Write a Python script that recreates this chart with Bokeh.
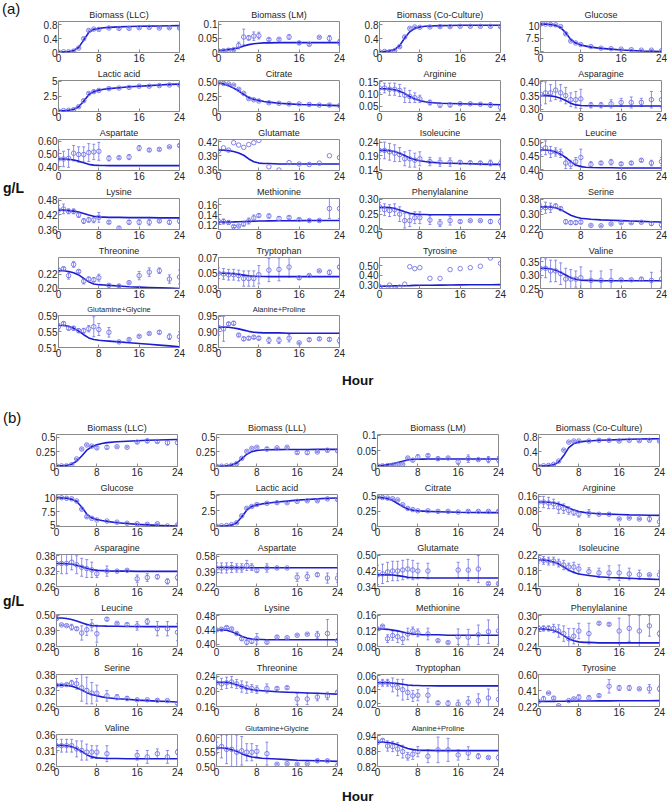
from bokeh.plotting import figure
from bokeh.layouts import column, row
from bokeh.models import Range1d, FixedTicker, Whisker, TeeHead, ColumnDataSource, Div, Spacer
from bokeh.embed import file_html
from bokeh.resources import INLINE

MODEL_T = [0, 1, 2, 3, 4, 5, 6, 7, 8, 9, 10, 12, 14, 16, 18, 20, 22, 24]
DATA_T = [0, 1, 2, 3, 4, 5, 6, 7, 8, 10, 12, 14, 16, 18, 20, 22, 24]
X_TICKS = [0, 8, 16, 24]
N = None

# ---------------- panel (a) ----------------
A_TITLES = ["Biomass (LLC)", "Biomass (LM)", "Biomass (Co-Culture)", "Glucose",
            "Lactic acid", "Citrate", "Arginine", "Asparagine",
            "Aspartate", "Glutamate", "Isoleucine", "Leucine",
            "Lysine", "Methionine", "Phenylalanine", "Serine",
            "Threonine", "Tryptophan", "Tyrosine", "Valine",
            "Glutamine+Glycine", "Alanine+Proline"]
A_YLIMS = [(0, 0.9), (0, 0.11), (0, 0.9), (4.75, 10.8),
           (0, 5.15), (0, 0.53), (0.028, 0.156), (0.292, 0.405),
           (0.37, 0.612), (0.358, 0.425), (0.138, 0.249), (0.398, 0.51),
           (0.36, 0.488), (0.11, 0.172), (0.198, 0.303), (0.218, 0.385),
           (0.1995, 0.244), (0.03, 0.0705), (0.265, 0.585), (0.25, 0.365),
           (0.51, 0.59), (0.85, 0.953)]
A_YTICKS = [[0, 0.4, 0.8], [0, 0.05, 0.1], [0, 0.4, 0.8], [5, 7.5, 10],
            [0, 2.5, 5], [0, 0.25, 0.5], [0.05, 0.10, 0.15], [0.30, 0.35, 0.40],
            [0.40, 0.50, 0.60], [0.36, 0.39, 0.42], [0.14, 0.19, 0.24], [0.40, 0.45, 0.50],
            [0.36, 0.42, 0.48], [0.12, 0.14, 0.16], [0.20, 0.25, 0.30], [0.22, 0.30, 0.38],
            [0.20, 0.22], [0.03, 0.05, 0.07], [0.30, 0.40, 0.50], [0.25, 0.30, 0.35],
            [0.51, 0.55, 0.59], [0.85, 0.90, 0.95]]
A_YLABELS = [["0", "0.4", "0.8"], ["0", "0.05", "0.1"], ["0", "0.4", "0.8"], ["5", "7.5", "10"],
             ["0", "2.5", "5"], ["0", "0.25", "0.50"], ["0.05", "0.10", "0.15"], ["0.30", "0.35", "0.40"],
             ["0.40", "0.50", "0.60"], ["0.36", "0.39", "0.42"], ["0.14", "0.19", "0.24"], ["0.40", "0.45", "0.50"],
             ["0.36", "0.42", "0.48"], ["0.12", "0.14", "0.16"], ["0.20", "0.25", "0.30"], ["0.22", "0.30", "0.38"],
             ["0.20", "0.22"], ["0.03", "0.05", "0.07"], ["0.30", "0.40", "0.50"], ["0.25", "0.30", "0.35"],
             ["0.51", "0.55", "0.59"], ["0.85", "0.90", "0.95"]]

a01_fit = [0.01, 0.015, 0.03, 0.06, 0.15, 0.36, 0.58, 0.67, 0.70, 0.72, 0.73, 0.745, 0.755, 0.76, 0.765, 0.77, 0.775, 0.78]
a01_obs = [0.01, 0.02, 0.02, 0.04, 0.13, 0.40, 0.64, 0.68, 0.67, 0.71, 0.70, 0.70, 0.72, 0.73, 0.71, 0.72, 0.71]
a01_err = [0.01, 0.01, 0.01, 0.01, 0.02, 0.03, 0.02, 0.02, 0.02, 0.02, 0.02, 0.02, 0.02, 0.02, 0.02, 0.02, 0.02]
a02_fit = [0.008, 0.009, 0.011, 0.013, 0.017, 0.023, 0.028, 0.031, 0.033, 0.034, 0.034, 0.035, 0.035, 0.035, 0.035, 0.035, 0.035, 0.035]
a02_obs = [0.005, 0.006, 0.008, 0.01, 0.025, 0.055, 0.052, 0.058, 0.06, 0.046, 0.047, 0.055, 0.034, 0.029, 0.054, 0.05, 0.036]
a02_err = [0.002, 0.002, 0.002, 0.003, 0.012, 0.028, 0.008, 0.015, 0.012, 0.004, 0.003, 0.008, 0.005, 0.003, 0.002, 0.01, 0.01]
a03_fit = [0.02, 0.03, 0.05, 0.09, 0.2, 0.42, 0.6, 0.7, 0.74, 0.76, 0.77, 0.78, 0.785, 0.79, 0.79, 0.79, 0.79, 0.79]
a03_obs = [0.02, 0.03, 0.02, 0.05, 0.17, 0.45, 0.70, 0.74, 0.73, 0.74, 0.75, 0.75, 0.76, 0.76, 0.76, 0.76, 0.75]
a03_err = [0.01, 0.01, 0.01, 0.01, 0.02, 0.03, 0.02, 0.02, 0.02, 0.02, 0.02, 0.02, 0.02, 0.02, 0.02, 0.02, 0.02]
a04_fit = [10.3, 10.25, 10.2, 10.0, 9.6, 8.6, 7.3, 6.6, 6.2, 6.0, 5.8, 5.55, 5.4, 5.25, 5.15, 5.05, 5.0, 4.95]
a04_obs = [10.3, 10.3, 10.2, 10.15, 9.8, 8.4, 7.0, 6.6, 6.3, 5.9, 5.6, 5.5, 5.4, 5.3, 5.2, 5.2, 5.1]
a04_err = [0.1, 0.1, 0.1, 0.1, 0.1, 0.15, 0.15, 0.1, 0.1, 0.1, 0.1, 0.1, 0.1, 0.1, 0.1, 0.1, 0.1]
a05_fit = [0.1, 0.12, 0.2, 0.35, 0.8, 1.7, 2.8, 3.3, 3.55, 3.7, 3.8, 3.95, 4.1, 4.2, 4.3, 4.4, 4.5, 4.55]
a05_obs = [0.1, 0.15, 0.2, 0.3, 0.8, 1.8, 3.0, 3.3, 3.5, 3.8, 3.9, 4.0, 4.2, 4.2, 4.3, 4.4, 4.4]
a05_err = [0.05, 0.05, 0.05, 0.05, 0.1, 0.15, 0.15, 0.15, 0.1, 0.1, 0.1, 0.1, 0.1, 0.1, 0.1, 0.1, 0.1]
a06_fit = [0.49, 0.47, 0.44, 0.40, 0.35, 0.29, 0.24, 0.21, 0.19, 0.17, 0.16, 0.14, 0.13, 0.12, 0.115, 0.11, 0.105, 0.10]
a06_obs = [0.49, 0.48, 0.47, 0.45, 0.38, 0.31, 0.22, 0.20, 0.18, 0.15, 0.14, 0.13, 0.13, 0.12, 0.11, 0.11, 0.10]
a06_err = [0.01, 0.01, 0.01, 0.01, 0.01, 0.01, 0.01, 0.01, 0.01, 0.01, 0.01, 0.01, 0.01, 0.01, 0.01, 0.015, 0.01]
a07_fit = [0.122, 0.122, 0.121, 0.118, 0.112, 0.102, 0.09, 0.08, 0.073, 0.068, 0.065, 0.062, 0.061, 0.06, 0.059, 0.058, 0.057, 0.056]
a07_obs = [0.125, 0.125, 0.12, 0.12, 0.115, 0.095, 0.09, 0.085, 0.08, 0.065, 0.055, 0.055, 0.06, 0.06, 0.058, 0.055, 0.045]
a07_err = [0.02, 0.02, 0.025, 0.025, 0.025, 0.03, 0.025, 0.02, 0.015, 0.01, 0.01, 0.008, 0.003, 0.003, 0.003, 0.01, 0.012]
a08_fit = [0.35, 0.35, 0.349, 0.346, 0.34, 0.332, 0.322, 0.316, 0.314, 0.313, 0.313, 0.312, 0.312, 0.312, 0.312, 0.312, 0.312, 0.312]
a08_obs = [0.355, 0.36, 0.36, 0.37, 0.36, 0.35, 0.335, 0.335, 0.338, 0.315, 0.315, 0.32, 0.325, 0.325, 0.325, 0.335, 0.335]
a08_err = [0.04, 0.04, 0.03, 0.035, 0.03, 0.03, 0.025, 0.03, 0.035, 0.01, 0.01, 0.015, 0.015, 0.02, 0.015, 0.03, 0.03]
a09_fit = [0.46, 0.46, 0.458, 0.452, 0.443, 0.43, 0.418, 0.412, 0.41, 0.409, 0.408, 0.408, 0.408, 0.408, 0.408, 0.408, 0.408, 0.408]
a09_obs = [0.46, 0.46, 0.465, 0.505, 0.495, 0.495, 0.51, 0.515, 0.52, 0.465, 0.47, 0.475, 0.545, 0.53, 0.535, 0.555, 0.565]
a09_err = [0.07, 0.06, 0.07, 0.06, 0.06, 0.06, 0.07, 0.06, 0.07, 0.02, 0.008, 0.02, 0.02, 0.01, 0.008, 0.005, 0.01]
a10_fit = [0.402, 0.402, 0.401, 0.399, 0.396, 0.391, 0.383, 0.377, 0.374, 0.373, 0.373, 0.372, 0.372, 0.372, 0.372, 0.372, 0.372, 0.372]
a10_obs = [0.40, 0.407, 0.402, 0.418, 0.413, 0.408, 0.414, 0.418, 0.423, 0.366, 0.359, 0.375, 0.372, 0.371, 0.374, 0.39, 0.386]
a10_err = [0, 0, 0, 0, 0, 0, 0, 0, 0, 0, 0, 0, 0, 0, 0, 0, 0]
a11_fit = [0.21, 0.21, 0.209, 0.206, 0.2, 0.192, 0.183, 0.177, 0.173, 0.17, 0.168, 0.165, 0.164, 0.163, 0.162, 0.161, 0.16, 0.16]
a11_obs = [0.21, 0.21, 0.205, 0.2, 0.195, 0.18, 0.18, 0.175, 0.18, 0.17, 0.168, 0.168, 0.167, 0.166, 0.165, 0.165, 0.163]
a11_err = [0.03, 0.03, 0.03, 0.03, 0.025, 0.025, 0.03, 0.025, 0.025, 0.015, 0.015, 0.015, 0.005, 0.005, 0.005, 0.01, 0.012]
a12_fit = [0.472, 0.472, 0.47, 0.465, 0.457, 0.445, 0.43, 0.418, 0.412, 0.41, 0.409, 0.408, 0.408, 0.407, 0.407, 0.407, 0.407, 0.407]
a12_obs = [0.475, 0.48, 0.465, 0.465, 0.46, 0.425, 0.42, 0.43, 0.445, 0.42, 0.425, 0.428, 0.422, 0.425, 0.435, 0.425, 0.43]
a12_err = [0.02, 0.025, 0.02, 0.015, 0.015, 0.02, 0.015, 0.015, 0.03, 0.01, 0.005, 0.01, 0.005, 0.005, 0.005, 0.01, 0.015]
a13_fit = [0.44, 0.44, 0.438, 0.436, 0.432, 0.426, 0.42, 0.415, 0.412, 0.411, 0.41, 0.41, 0.409, 0.409, 0.409, 0.408, 0.408, 0.408]
a13_obs = [0.44, 0.445, 0.435, 0.435, 0.42, 0.395, 0.4, 0.4, 0.41, 0.39, 0.366, 0.39, 0.39, 0.39, 0.395, 0.39, 0.395]
a13_err = [0.02, 0.02, 0.01, 0.01, 0.01, 0.01, 0.01, 0.012, 0.02, 0.005, 0.005, 0.008, 0.01, 0.012, 0.005, 0.008, 0.01]
a14_fit = [0.125, 0.125, 0.125, 0.1252, 0.1255, 0.126, 0.1263, 0.1266, 0.127, 0.127, 0.1272, 0.1274, 0.1276, 0.1278, 0.128, 0.128, 0.128, 0.128]
a14_obs = [0.126, 0.126, 0.124, 0.116, 0.117, 0.121, 0.127, 0.133, 0.138, 0.137, 0.132, 0.134, 0.13, 0.128, 0.128, 0.152, 0.152]
a14_err = [0.005, 0.005, 0.003, 0.002, 0.002, 0.004, 0.006, 0.006, 0.003, 0.004, 0.004, 0.003, 0.002, 0.002, 0.002, 0.02, 0.02]
a15_fit = [0.273, 0.273, 0.272, 0.269, 0.264, 0.258, 0.253, 0.25, 0.249, 0.249, 0.248, 0.248, 0.248, 0.248, 0.248, 0.248, 0.248, 0.248]
a15_obs = [0.275, 0.265, 0.262, 0.265, 0.25, 0.228, 0.228, 0.238, 0.238, 0.23, 0.22, 0.228, 0.225, 0.228, 0.228, 0.225, 0.225]
a15_err = [0.015, 0.02, 0.02, 0.02, 0.025, 0.025, 0.02, 0.02, 0.02, 0.015, 0.012, 0.015, 0.005, 0.002, 0.002, 0.007, 0.01]
a16_fit = [0.34, 0.34, 0.339, 0.335, 0.325, 0.31, 0.295, 0.285, 0.279, 0.276, 0.273, 0.27, 0.268, 0.266, 0.264, 0.262, 0.26, 0.258]
a16_obs = [0.335, 0.335, 0.335, 0.345, 0.33, 0.26, 0.255, 0.255, 0.258, 0.24, 0.238, 0.248, 0.255, 0.255, 0.257, 0.25, 0.243]
a16_err = [0.02, 0.03, 0.025, 0.01, 0.01, 0.012, 0.01, 0.01, 0.01, 0.003, 0.003, 0.005, 0.005, 0.005, 0.004, 0.01, 0.012]
a17_fit = [0.225, 0.225, 0.224, 0.222, 0.219, 0.214, 0.209, 0.206, 0.205, 0.2045, 0.204, 0.203, 0.202, 0.2015, 0.201, 0.2005, 0.2, 0.1995]
a17_obs = [0.226, 0.228, 0.218, 0.234, 0.224, 0.21, 0.213, 0.212, 0.215, 0.204, 0.203, 0.208, 0.218, 0.223, 0.225, 0.213, 0.216]
a17_err = [0.002, 0.002, 0.005, 0.004, 0.002, 0.004, 0.003, 0.003, 0.005, 0.001, 0.002, 0.001, 0.006, 0.006, 0.004, 0.006, 0.01]
a18_fit = [0.05, 0.05, 0.0498, 0.0493, 0.0485, 0.0475, 0.0465, 0.046, 0.0457, 0.0456, 0.0455, 0.0455, 0.0455, 0.0455, 0.0455, 0.0455, 0.0455, 0.0455]
a18_obs = [0.05, 0.049, 0.048, 0.048, 0.047, 0.043, 0.043, 0.043, 0.048, 0.054, 0.055, 0.058, 0.044, 0.047, 0.053, 0.051, 0.058]
a18_err = [0.007, 0.007, 0.007, 0.007, 0.007, 0.01, 0.01, 0.01, 0.012, 0.015, 0.015, 0.013, 0.002, 0.001, 0.001, 0.003, 0.002]
a19_fit = [0.29, 0.29, 0.291, 0.292, 0.293, 0.294, 0.295, 0.297, 0.298, 0.299, 0.299, 0.3, 0.301, 0.302, 0.303, 0.304, 0.304, 0.305]
a19_obs = [0.285, 0.275, 0.3, 0.26, 0.28, 0.31, 0.49, 0.47, 0.48, 0.37, 0.37, 0.46, 0.47, 0.48, 0.495, 0.58, 0.525]
a19_err = [0, 0, 0, 0, 0, 0, 0, 0, 0, 0, 0, 0, 0, 0, 0, 0, 0]
a20_fit = [0.325, 0.325, 0.323, 0.318, 0.31, 0.3, 0.29, 0.284, 0.281, 0.28, 0.28, 0.279, 0.279, 0.279, 0.279, 0.279, 0.279, 0.279]
a20_obs = [0.325, 0.325, 0.315, 0.315, 0.305, 0.285, 0.285, 0.285, 0.29, 0.28, 0.28, 0.28, 0.282, 0.282, 0.285, 0.28, 0.285]
a20_err = [0.035, 0.035, 0.04, 0.04, 0.04, 0.04, 0.035, 0.03, 0.04, 0.035, 0.035, 0.04, 0.003, 0.003, 0.005, 0.03, 0.03]
a21_fit = [0.565, 0.565, 0.563, 0.558, 0.551, 0.542, 0.534, 0.53, 0.528, 0.527, 0.526, 0.524, 0.522, 0.52, 0.518, 0.516, 0.514, 0.512]
a21_obs = [0.562, 0.57, 0.558, 0.558, 0.552, 0.552, 0.557, 0.562, 0.555, 0.548, 0.524, 0.53, 0.538, 0.545, 0.548, 0.537, 0.537]
a21_err = [0.008, 0.004, 0.004, 0.005, 0.005, 0.006, 0.008, 0.025, 0.015, 0.012, 0.002, 0.002, 0.002, 0.002, 0.004, 0.007, 0.012]
a22_fit = [0.915, 0.916, 0.915, 0.913, 0.91, 0.906, 0.902, 0.899, 0.898, 0.897, 0.897, 0.897, 0.896, 0.896, 0.896, 0.896, 0.896, 0.896]
a22_obs = [0.915, 0.91, 0.926, 0.928, 0.89, 0.878, 0.88, 0.883, 0.88, 0.873, 0.873, 0.88, 0.865, 0.875, 0.878, 0.876, 0.872]
a22_err = [0.025, 0.04, 0.005, 0.006, 0.004, 0.006, 0.005, 0.004, 0.006, 0.01, 0.01, 0.012, 0.002, 0.005, 0.004, 0.005, 0.01]

A_FITS = [a01_fit, a02_fit, a03_fit, a04_fit, a05_fit, a06_fit, a07_fit, a08_fit, a09_fit, a10_fit, a11_fit,
          a12_fit, a13_fit, a14_fit, a15_fit, a16_fit, a17_fit, a18_fit, a19_fit, a20_fit, a21_fit, a22_fit]
A_OBS = [a01_obs, a02_obs, a03_obs, a04_obs, a05_obs, a06_obs, a07_obs, a08_obs, a09_obs, a10_obs, a11_obs,
         a12_obs, a13_obs, a14_obs, a15_obs, a16_obs, a17_obs, a18_obs, a19_obs, a20_obs, a21_obs, a22_obs]
A_ERR = [a01_err, a02_err, a03_err, a04_err, a05_err, a06_err, a07_err, a08_err, a09_err, a10_err, a11_err,
         a12_err, a13_err, a14_err, a15_err, a16_err, a17_err, a18_err, a19_err, a20_err, a21_err, a22_err]

# ---------------- panel (b) ----------------
B_TITLES = ["Biomass (LLC)", "Biomass (LLL)", "Biomass (LM)", "Biomass (Co-Culture)",
            "Glucose", "Lactic acid", "Citrate", "Arginine",
            "Asparagine", "Aspartate", "Glutamate", "Isoleucine",
            "Leucine", "Lysine", "Methionine", "Phenylalanine",
            "Serine", "Threonine", "Tryptophan", "Tyrosine",
            "Valine", "Glutamine+Glycine", "Alanine+Proline"]
B_YLIMS = [(0, 0.55), (0, 0.55), (0, 0.102), (0, 0.88),
           (4.8, 10.7), (0, 5.1), (0, 0.53), (0, 0.17),
           (0.26, 0.385), (0.22, 0.6), (0.34, 0.505), (0.14, 0.222),
           (0.28, 0.505), (0.393, 0.484), (0.08, 0.162), (0.24, 0.302),
           (0.26, 0.38), (0.16, 0.245), (0.0157, 0.062), (0.22, 0.6),
           (0.26, 0.36), (0.5, 0.612), (0.82, 0.945)]
B_YTICKS = [[0, 0.25, 0.5], [0, 0.25, 0.5], [0, 0.05, 0.1], [0, 0.4, 0.8],
            [5, 7.5, 10], [0, 2.5, 5], [0, 0.25, 0.5], [0, 0.08, 0.16],
            [0.26, 0.32, 0.38], [0.22, 0.39, 0.58], [0.34, 0.42, 0.50], [0.14, 0.18, 0.22],
            [0.28, 0.39, 0.50], [0.40, 0.44, 0.48], [0.08, 0.12, 0.16], [0.24, 0.27, 0.30],
            [0.26, 0.32, 0.38], [0.16, 0.20, 0.24], [0.02, 0.04, 0.06], [0.22, 0.41, 0.60],
            [0.26, 0.31, 0.36], [0.50, 0.55, 0.60], [0.82, 0.88, 0.94]]
B_YLABELS = [["0", "0.25", "0.5"], ["0", "0.25", "0.5"], ["0", "0.05", "0.1"], ["0", "0.4", "0.8"],
             ["5", "7.5", "10"], ["0", "2.5", "5"], ["0", "0.25", "0.5"], ["0", "0.08", "0.16"],
             ["0.26", "0.32", "0.38"], ["0.22", "0.39", "0.58"], ["0.34", "0.42", "0.50"], ["0.14", "0.18", "0.22"],
             ["0.28", "0.39", "0.50"], ["0.40", "0.44", "0.48"], ["0.08", "0.12", "0.16"], ["0.24", "0.27", "0.30"],
             ["0.26", "0.32", "0.38"], ["0.16", "0.20", "0.24"], ["0.02", "0.04", "0.06"], ["0.22", "0.41", "0.60"],
             ["0.26", "0.31", "0.36"], ["0.50", "0.55", "0.60"], ["0.82", "0.88", "0.94"]]

b01_fit = [0.01, 0.012, 0.02, 0.04, 0.09, 0.18, 0.28, 0.34, 0.375, 0.395, 0.41, 0.425, 0.435, 0.443, 0.45, 0.455, 0.46, 0.465]
b01_obs = [0.01, 0.01, 0.01, 0.03, 0.13, 0.30, 0.37, 0.35, 0.32, 0.33, 0.34, 0.33, 0.42, 0.44, 0.43, 0.41, 0.41]
b01_err = [0.005, 0.005, 0.005, 0.005, 0.01, 0.015, 0.015, 0.01, 0.02, 0.03, 0.01, 0.01, 0.02, 0.03, 0.02, 0.04, 0.03]
b02_fit = [0.005, 0.007, 0.012, 0.025, 0.06, 0.13, 0.21, 0.255, 0.275, 0.283, 0.287, 0.29, 0.291, 0.292, 0.293, 0.294, 0.295, 0.295]
b02_obs = [0.005, 0.005, 0.01, 0.02, 0.05, 0.14, 0.26, 0.31, 0.33, 0.30, 0.32, 0.33, 0.24, 0.24, 0.25, 0.28, 0.27]
b02_err = [0.005, 0.005, 0.005, 0.005, 0.01, 0.01, 0.01, 0.01, 0.01, 0.03, 0.01, 0.01, 0.02, 0.03, 0.01, 0.03, 0.02]
b03_fit = [0.003, 0.004, 0.006, 0.009, 0.013, 0.017, 0.021, 0.023, 0.023, 0.0235, 0.024, 0.024, 0.024, 0.024, 0.024, 0.024, 0.024, 0.024]
b03_obs = [0.002, 0.002, 0.003, 0.004, 0.006, 0.007, 0.027, 0.02, 0.03, 0.035, 0.025, 0.027, 0.015, 0.025, 0.022, 0.022, 0.022]
b03_err = [0.001, 0.001, 0.001, 0.001, 0.002, 0.002, 0.003, 0.003, 0.008, 0.003, 0.005, 0.003, 0.008, 0.012, 0.003, 0.01, 0.01]
b04_fit = [0.01, 0.015, 0.025, 0.05, 0.12, 0.3, 0.52, 0.63, 0.67, 0.69, 0.7, 0.72, 0.73, 0.74, 0.75, 0.755, 0.76, 0.765]
b04_obs = [0.01, 0.02, 0.03, 0.06, 0.15, 0.45, 0.67, 0.70, 0.70, 0.70, 0.72, 0.72, 0.70, 0.72, 0.71, 0.72, 0.70]
b04_err = [0.01, 0.01, 0.01, 0.01, 0.01, 0.02, 0.02, 0.02, 0.02, 0.02, 0.02, 0.02, 0.02, 0.02, 0.02, 0.02, 0.02]
b05_fit = [10.1, 10.05, 10.0, 9.8, 9.4, 8.4, 7.1, 6.4, 6.1, 5.9, 5.75, 5.5, 5.35, 5.2, 5.1, 5.0, 4.95, 4.9]
b05_obs = [10.1, 10.1, 10.0, 9.9, 9.5, 8.0, 6.6, 6.3, 6.0, 5.8, 5.6, 5.4, 5.3, 5.2, 5.3, 4.9, 5.1]
b05_err = [0.1, 0.1, 0.1, 0.1, 0.1, 0.15, 0.15, 0.1, 0.1, 0.1, 0.1, 0.1, 0.1, 0.1, 0.1, 0.1, 0.1]
b06_fit = [0.05, 0.07, 0.12, 0.25, 0.6, 1.5, 2.6, 3.2, 3.45, 3.6, 3.7, 3.9, 4.05, 4.2, 4.3, 4.4, 4.5, 4.55]
b06_obs = [0.05, 0.1, 0.15, 0.3, 0.6, 1.7, 2.9, 3.2, 3.5, 3.7, 3.8, 3.8, 4.0, 4.1, 4.1, 4.4, 4.3]
b06_err = [0.05, 0.05, 0.05, 0.05, 0.1, 0.1, 0.1, 0.1, 0.1, 0.1, 0.1, 0.1, 0.1, 0.1, 0.1, 0.1, 0.1]
b07_fit = [0.48, 0.475, 0.46, 0.43, 0.38, 0.33, 0.29, 0.27, 0.26, 0.255, 0.25, 0.245, 0.24, 0.235, 0.233, 0.232, 0.23, 0.23]
b07_obs = [0.49, 0.48, 0.47, 0.46, 0.44, 0.36, 0.30, 0.28, 0.26, 0.26, 0.25, 0.25, 0.24, 0.25, 0.25, 0.25, 0.25]
b07_err = [0.01, 0.01, 0.01, 0.01, 0.01, 0.01, 0.01, 0.01, 0.01, 0.01, 0.01, 0.01, 0.01, 0.015, 0.01, 0.01, 0.015]
b08_fit = [0.13, 0.13, 0.129, 0.126, 0.12, 0.11, 0.098, 0.088, 0.08, 0.075, 0.072, 0.068, 0.066, 0.064, 0.062, 0.061, 0.06, 0.059]
b08_obs = [0.13, 0.13, 0.125, 0.12, 0.10, 0.095, 0.085, 0.075, 0.065, 0.07, 0.065, 0.065, 0.04, 0.045, 0.04, 0.04, 0.025]
b08_err = [0.03, 0.03, 0.03, 0.025, 0.03, 0.025, 0.02, 0.015, 0.015, 0.02, 0.003, 0.003, 0.003, 0.003, 0.003, 0.015, 0.02]
b09_fit = [0.35, 0.35, 0.349, 0.347, 0.343, 0.337, 0.331, 0.326, 0.323, 0.322, 0.321, 0.32, 0.32, 0.319, 0.319, 0.319, 0.319, 0.319]
b09_obs = [0.35, 0.35, 0.35, 0.355, 0.345, 0.335, 0.33, 0.325, 0.31, 0.32, 0.32, 0.323, 0.29, 0.295, 0.298, 0.28, 0.295]
b09_err = [0.04, 0.04, 0.04, 0.03, 0.035, 0.035, 0.035, 0.03, 0.015, 0.02, 0.003, 0.003, 0.015, 0.015, 0.008, 0.01, 0.01]
b10_fit = [0.445, 0.445, 0.445, 0.444, 0.444, 0.443, 0.443, 0.443, 0.443, 0.442, 0.442, 0.442, 0.442, 0.442, 0.442, 0.442, 0.442, 0.442]
b10_obs = [0.44, 0.44, 0.44, 0.445, 0.44, 0.44, 0.47, 0.45, 0.41, 0.44, 0.44, 0.44, 0.33, 0.34, 0.36, 0.32, 0.32]
b10_err = [0.06, 0.06, 0.06, 0.06, 0.05, 0.05, 0.06, 0.04, 0.02, 0.05, 0.01, 0.005, 0.05, 0.05, 0.02, 0.06, 0.05]
b11_fit = [0.4, 0.4, 0.4, 0.399, 0.396, 0.392, 0.388, 0.386, 0.385, 0.385, 0.384, 0.384, 0.384, 0.384, 0.384, 0.384, 0.384, 0.384]
b11_obs = [0.4, 0.405, 0.415, 0.42, 0.42, 0.425, 0.43, 0.425, 0.42, 0.42, N, N, 0.425, 0.425, 0.43, 0.355, 0.355]
b11_err = [0.05, 0.05, 0.05, 0.05, 0.05, 0.05, 0.05, 0.05, 0.04, 0.04, 0, 0, 0.04, 0.055, 0.07, 0.005, 0.003]
b12_fit = [0.208, 0.208, 0.206, 0.203, 0.198, 0.19, 0.182, 0.176, 0.172, 0.17, 0.168, 0.165, 0.163, 0.162, 0.161, 0.16, 0.159, 0.158]
b12_obs = [0.21, 0.207, 0.205, 0.205, 0.2, 0.195, 0.19, 0.19, 0.185, 0.178, 0.175, 0.175, 0.175, 0.172, 0.17, 0.17, 0.17]
b12_err = [0.01, 0.01, 0.01, 0.01, 0.01, 0.012, 0.01, 0.012, 0.012, 0.01, 0.012, 0.018, 0.02, 0.015, 0.012, 0.002, 0.01]
b13_fit = [0.48, 0.48, 0.477, 0.47, 0.46, 0.447, 0.435, 0.428, 0.425, 0.424, 0.423, 0.422, 0.421, 0.421, 0.42, 0.42, 0.42, 0.42]
b13_obs = [0.477, 0.432, 0.427, 0.416, 0.405, 0.375, 0.398, 0.43, 0.37, 0.472, 0.443, 0.434, 0.425, 0.455, 0.405, 0.405, 0.38]
b13_err = [0.01, 0.005, 0.005, 0.02, 0.01, 0.05, 0.04, 0.04, 0.06, 0.01, 0.005, 0.01, 0.03, 0.02, 0.05, 0.05, 0.06]
b14_fit = [0.44, 0.44, 0.439, 0.435, 0.429, 0.422, 0.417, 0.414, 0.413, 0.413, 0.412, 0.412, 0.412, 0.412, 0.412, 0.412, 0.412, 0.412]
b14_obs = [0.44, 0.442, 0.447, 0.443, 0.43, 0.415, 0.405, 0.408, 0.415, 0.405, 0.42, 0.418, 0.425, 0.428, 0.426, 0.43, 0.41]
b14_err = [0.003, 0.003, 0.003, 0.003, 0.003, 0.004, 0.007, 0.006, 0.015, 0.003, 0.003, 0.002, 0.002, 0.002, 0.01, 0.04, 0.02]
b15_fit = [0.125, 0.125, 0.124, 0.122, 0.12, 0.117, 0.114, 0.112, 0.111, 0.11, 0.11, 0.11, 0.109, 0.109, 0.109, 0.109, 0.109, 0.109]
b15_obs = [0.125, 0.132, 0.1, 0.108, 0.105, 0.1, 0.112, 0.12, 0.115, 0.112, 0.095, 0.09, 0.105, 0.104, 0.11, 0.118, 0.12]
b15_err = [0.003, 0.002, 0.01, 0.012, 0.015, 0.015, 0.015, 0.01, 0.01, 0.015, 0.002, 0.002, 0.02, 0.02, 0.025, 0.03, 0.035]
b16_fit = [0.274, 0.274, 0.273, 0.271, 0.267, 0.261, 0.255, 0.251, 0.249, 0.248, 0.248, 0.247, 0.247, 0.247, 0.247, 0.247, 0.247, 0.247]
b16_obs = [0.275, 0.275, 0.275, 0.275, 0.27, 0.265, 0.255, 0.26, 0.27, 0.265, 0.285, 0.283, 0.27, 0.275, 0.27, 0.28, 0.265]
b16_err = [0.005, 0.005, 0.005, 0.008, 0.012, 0.015, 0.02, 0.015, 0.015, 0.02, 0.002, 0.002, 0.025, 0.025, 0.03, 0.02, 0.005]
b17_fit = [0.34, 0.34, 0.339, 0.336, 0.33, 0.322, 0.312, 0.305, 0.3, 0.296, 0.293, 0.289, 0.287, 0.284, 0.282, 0.28, 0.279, 0.277]
b17_obs = [0.34, 0.34, 0.342, 0.348, 0.345, 0.33, 0.32, 0.31, 0.31, 0.3, 0.295, 0.29, 0.285, 0.285, 0.283, 0.282, 0.272]
b17_err = [0.005, 0.003, 0.003, 0.01, 0.02, 0.05, 0.05, 0.04, 0.03, 0.02, 0.01, 0.008, 0.003, 0.002, 0.004, 0.002, 0.005]
b18_fit = [0.224, 0.224, 0.224, 0.222, 0.218, 0.213, 0.208, 0.205, 0.203, 0.202, 0.201, 0.199, 0.198, 0.197, 0.196, 0.195, 0.194, 0.193]
b18_obs = [0.223, 0.22, 0.223, 0.225, 0.22, 0.213, 0.21, 0.208, 0.205, 0.208, 0.208, 0.21, 0.18, 0.18, 0.185, 0.188, 0.198]
b18_err = [0.015, 0.015, 0.015, 0.015, 0.012, 0.015, 0.015, 0.01, 0.01, 0.012, 0.003, 0.003, 0.015, 0.015, 0.01, 0.01, 0.003]
b19_fit = [0.05, 0.05, 0.05, 0.0495, 0.0488, 0.0478, 0.0468, 0.0462, 0.046, 0.0458, 0.0457, 0.0456, 0.0455, 0.0455, 0.0455, 0.0455, 0.0455, 0.0455]
b19_obs = [0.05, 0.05, 0.05, 0.047, 0.043, 0.04, 0.036, 0.031, 0.032, 0.032, 0.021, 0.02, 0.019, 0.022, 0.024, 0.028, 0.026]
b19_err = [0.005, 0.005, 0.005, 0.01, 0.012, 0.015, 0.01, 0.008, 0.008, 0.01, 0.002, 0.004, 0.006, 0.008, 0.01, 0.013, 0.013]
b20_fit = [0.28, 0.28, 0.281, 0.281, 0.282, 0.283, 0.284, 0.284, 0.285, 0.285, 0.286, 0.287, 0.287, 0.288, 0.288, 0.289, 0.289, 0.29]
b20_obs = [0.28, 0.31, 0.38, 0.32, 0.23, N, 0.29, 0.31, 0.33, 0.32, 0.35, 0.46, 0.44, 0.44, 0.43, 0.43, 0.43]
b20_err = [0.01, 0.03, 0.005, 0.015, 0.005, 0, 0.005, 0.01, 0.03, 0.03, 0.01, 0.08, 0.03, 0.03, 0.01, 0.05, 0.03]
b21_fit = [0.326, 0.326, 0.325, 0.322, 0.316, 0.307, 0.297, 0.29, 0.287, 0.286, 0.285, 0.285, 0.284, 0.284, 0.284, 0.284, 0.284, 0.284]
b21_obs = [0.325, 0.325, 0.325, 0.325, 0.315, 0.31, 0.305, 0.305, 0.305, 0.3, N, N, 0.295, 0.29, 0.3, 0.29, 0.305]
b21_err = [0.02, 0.02, 0.02, 0.02, 0.025, 0.03, 0.025, 0.02, 0.02, 0.025, 0, 0, 0.015, 0.02, 0.015, 0.02, 0.008]
b22_fit = [0.565, 0.565, 0.563, 0.559, 0.553, 0.545, 0.538, 0.533, 0.531, 0.529, 0.528, 0.526, 0.524, 0.522, 0.521, 0.52, 0.519, 0.518]
b22_obs = [0.565, 0.57, 0.56, 0.56, 0.55, 0.555, 0.55, 0.55, 0.553, 0.545, 0.508, 0.51, 0.508, 0.51, 0.52, 0.52, 0.503]
b22_err = [0.02, 0.04, 0.05, 0.06, 0.06, 0.05, 0.03, 0.03, 0.02, 0.04, 0.002, 0.002, 0.002, 0.002, 0.005, 0.003, 0.005]
b23_fit = [0.915, 0.915, 0.914, 0.911, 0.905, 0.897, 0.89, 0.886, 0.884, 0.883, 0.883, 0.882, 0.882, 0.882, 0.882, 0.882, 0.882, 0.882]
b23_obs = [0.915, 0.922, 0.9, 0.898, 0.888, 0.878, 0.86, 0.868, 0.878, 0.86, 0.885, 0.885, 0.865, 0.872, 0.86, 0.855, 0.855]
b23_err = [0.008, 0.005, 0.02, 0.02, 0.025, 0.025, 0.015, 0.02, 0.02, 0.025, 0.05, 0.045, 0.02, 0.025, 0.01, 0.003, 0.01]

B_FITS = [b01_fit, b02_fit, b03_fit, b04_fit, b05_fit, b06_fit, b07_fit, b08_fit, b09_fit, b10_fit, b11_fit, b12_fit,
          b13_fit, b14_fit, b15_fit, b16_fit, b17_fit, b18_fit, b19_fit, b20_fit, b21_fit, b22_fit, b23_fit]
B_OBS = [b01_obs, b02_obs, b03_obs, b04_obs, b05_obs, b06_obs, b07_obs, b08_obs, b09_obs, b10_obs, b11_obs, b12_obs,
         b13_obs, b14_obs, b15_obs, b16_obs, b17_obs, b18_obs, b19_obs, b20_obs, b21_obs, b22_obs, b23_obs]
B_ERR = [b01_err, b02_err, b03_err, b04_err, b05_err, b06_err, b07_err, b08_err, b09_err, b10_err, b11_err, b12_err,
         b13_err, b14_err, b15_err, b16_err, b17_err, b18_err, b19_err, b20_err, b21_err, b22_err, b23_err]

# ---------------- styling ----------------
LINE_C = "#1c1cd0"
DATA_C = "#7474e6"
FRAME_C = "#8a8a8a"
TEXT_C = "#262626"
FONT = "Liberation Sans"
FRAME_W = 121
BORDER_L = 32
BORDER_R = [7, 8, 8, 6]


def make_fig(title, ylim, yticks, ylabels, fit, obs, err, col, fig_h, last_r):
    right = last_r if col == 3 else BORDER_R[col]
    p = figure(width=BORDER_L + FRAME_W + right, height=fig_h,
               x_range=Range1d(0, 24), y_range=Range1d(ylim[0], ylim[1]),
               toolbar_location=None, output_backend="svg", tools="",
               min_border_left=BORDER_L, min_border_right=right,
               min_border_top=14, min_border_bottom=13)
    p.title.text = title
    p.title.align = "center"
    p.title.text_font = FONT
    p.title.text_font_style = "normal"
    p.title.text_font_size = "7.5px" if "+" in title else "9px"
    p.title.text_color = TEXT_C
    p.title.standoff = 3
    p.outline_line_color = FRAME_C
    p.outline_line_width = 1
    p.grid.visible = False
    p.background_fill_color = "white"
    p.border_fill_color = "white"
    p.xaxis.ticker = FixedTicker(ticks=X_TICKS)
    p.yaxis.ticker = FixedTicker(ticks=yticks)
    p.yaxis.major_label_overrides = {t: s for t, s in zip(yticks, ylabels)}
    for ax in (p.xaxis[0], p.yaxis[0]):
        ax.axis_line_color = None
        ax.major_tick_in = 3
        ax.major_tick_out = 0
        ax.major_tick_line_color = FRAME_C
        ax.minor_tick_line_color = None
        ax.major_label_standoff = 1
        ax.major_label_text_font = FONT
        ax.major_label_text_font_size = "10px"
        ax.major_label_text_color = TEXT_C

    p.line(MODEL_T, fit, line_color=LINE_C, line_width=1.6)

    pts_t = [t for t, o in zip(DATA_T, obs) if o is not None]
    pts_y = [o for o in obs if o is not None]
    p.scatter(pts_t, pts_y, marker="circle", size=4.5, fill_color=None,
              line_color=DATA_C, line_width=0.9)

    bt, lo, hi = [], [], []
    for t, o, e in zip(DATA_T, obs, err):
        if o is not None and e > 0:
            bt.append(t)
            lo.append(o - e)
            hi.append(o + e)
    if bt:
        src = ColumnDataSource(dict(t=bt, lo=lo, hi=hi))
        w = Whisker(source=src, base="t", lower="lo", upper="hi",
                    line_color=DATA_C, line_width=0.8,
                    upper_head=TeeHead(size=3, line_color=DATA_C, line_width=0.8),
                    lower_head=TeeHead(size=3, line_color=DATA_C, line_width=0.8))
        p.add_layout(w)
    return p


def make_grid(titles, ylims, yticks, ylabels, fits, obs, errs, fig_h, last_r):
    figs = [make_fig(titles[i], ylims[i], yticks[i], ylabels[i], fits[i], obs[i], errs[i], i % 4, fig_h, last_r)
            for i in range(len(titles))]
    return [row(*figs[i:i + 4], spacing=0) for i in range(0, len(figs), 4)]


def side_div(letter, gl_top, height, width):
    letter_html = ('<div style="position:absolute;left:2px;top:0;font-size:15px;line-height:18px">%s</div>' % letter
                   if letter else "")
    html = ('<div style="position:relative;width:%dpx;height:%dpx;font-family:\'Liberation Sans\';color:#111">'
            '%s<div style="position:absolute;left:3px;top:%dpx;font-weight:bold;font-size:14px;'
            'line-height:16px">g/L</div></div>') % (width, height, letter_html, gl_top)
    return Div(text=html, width=width, height=height, margin=(0, 0, 0, 0))


def text_div(content, left, pad_top, height, size, bold):
    html = ('<div style="padding-left:%dpx;padding-top:%dpx;font-family:\'Liberation Sans\';'
            'font-weight:%s;font-size:%spx;line-height:%dpx;color:#111">%s</div>') % (
        left, pad_top, "bold" if bold else "normal", size, int(size) + 1, content)
    return Div(text=html, width=660, height=height, margin=(0, 0, 0, 0))


rows_a = make_grid(A_TITLES, A_YLIMS, A_YTICKS, A_YLABELS, A_FITS, A_OBS, A_ERR, 59, 6)
rows_b = make_grid(B_TITLES, B_YLIMS, B_YTICKS, B_YLABELS, B_FITS, B_OBS, B_ERR, 60, 8)

layout = column(
    row(side_div("(a)", 180, 360, 26), column(Spacer(width=10, height=6), *rows_a, spacing=0), spacing=0),
    text_div("Hour", 342, 14, 30, 13.5, True),
    text_div("(b)", 3, 20, 29, 15, False),
    row(side_div("", 174, 360, 24), column(*rows_b, spacing=0), spacing=0),
    text_div("Hour", 342, 11, 27, 13.5, True),
    spacing=0,
)

open("out.html", "w").write(file_html(layout, INLINE))
